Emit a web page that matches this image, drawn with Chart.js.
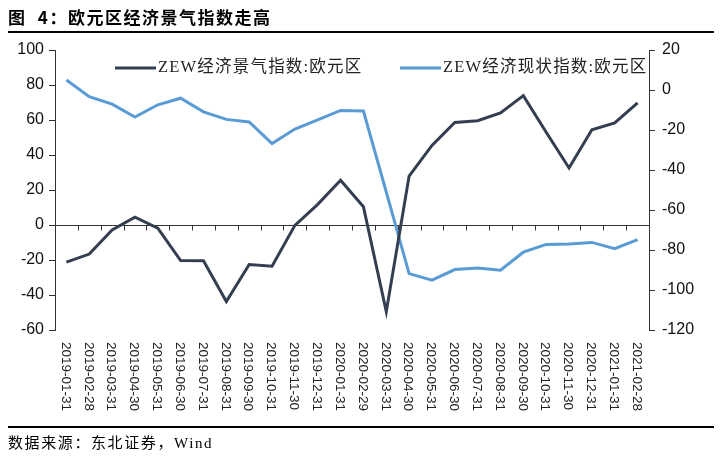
<!DOCTYPE html>
<html>
<head>
<meta charset="utf-8">
<script src="https://cdn.jsdelivr.net/npm/chart.js@4/dist/chart.umd.min.js"></script>
<style>
  html, body { margin: 0; padding: 0; background: #fff; }
  #wrap { position: relative; width: 722px; height: 460px; overflow: hidden; }
  #chart { position: absolute; left: 0; top: 0; }
  .title { position: absolute; left: 8px; top: 4px; font: bold 17px "Noto Sans CJK SC", sans-serif; color: #000; letter-spacing: 1.5px; word-spacing: 6px; }
  .rule { position: absolute; left: 8px; width: 706px; height: 2px; background: #000; }
  .source { position: absolute; left: 8px; top: 431px; font: 15px "Liberation Serif", "Noto Sans CJK SC", serif; color: #000; letter-spacing: 1.6px; }
</style>
</head>
<body>
<div id="wrap">
  <canvas id="chart" width="722" height="460"></canvas>
  <div class="title">图 4：欧元区经济景气指数走高</div>
  <div class="rule" style="top:31px"></div>
  <div class="rule" style="top:426px"></div>
  <div class="source">数据来源：东北证券，Wind</div>
</div>
<script>
// month-end dates
const dates = ['2019-01-31', '2019-02-28', '2019-03-31', '2019-04-30', '2019-05-31', '2019-06-30',
    '2019-07-31', '2019-08-31', '2019-09-30', '2019-10-31', '2019-11-30', '2019-12-31',
    '2020-01-31', '2020-02-29', '2020-03-31', '2020-04-30', '2020-05-31', '2020-06-30',
    '2020-07-31', '2020-08-31', '2020-09-30', '2020-10-31', '2020-11-30', '2020-12-31',
    '2021-01-31', '2021-02-28'];

// ZEW经济景气指数:欧元区 (left axis)
const sentiment = [-21.2, -16.6, -2.8, 4.5, -1.8, -20.3, -20.4, -43.7, -22.6, -23.5, -0.2, 11.8,
    25.6, 10.4, -49.5, 28.0, 45.5, 58.6, 59.6, 64.0, 73.9, 53.0, 32.6, 54.4, 58.3, 69.8];

// ZEW经济现状指数:欧元区 (right axis)
const currentSituation = [5.0, -3.3, -7.1, -13.5, -7.4, -4.1, -10.9, -14.7, -16.0, -26.8, -19.5, -14.9,
    -10.2, -10.5, -51.0, -91.8, -95.1, -89.8, -89.0, -90.1, -81.1, -77.2, -77.0, -76.2, -79.3, -74.8];

const leftTicks = [-60, -40, -20, 0, 20, 40, 60, 80, 100];
const rightTicks = [-120, -100, -80, -60, -40, -20, 0, 20];

const seriesNames = ['ZEW经济景气指数:欧元区', 'ZEW经济现状指数:欧元区'];

const axisColor = '#333333';
const tickFont = { family: '"Liberation Sans", Arial, sans-serif', size: 16 };

// zero line with ticks, rotated date labels and the legend
const decorPlugin = {
    id: 'decor',
    beforeDatasetsDraw(chart) {
        const { ctx, chartArea, scales } = chart;
        const x = scales.x;
        const y0 = Math.round(scales.y.getPixelForValue(0)) + 0.5;
        ctx.save();
        ctx.strokeStyle = axisColor;
        ctx.lineWidth = 1;
        ctx.beginPath();
        ctx.moveTo(chartArea.left, y0);
        ctx.lineTo(chartArea.right, y0);
        for (let i = 1; i < dates.length; i++) {
            const xb = Math.round((x.getPixelForValue(i - 1) + x.getPixelForValue(i)) / 2) + 0.5;
            ctx.moveTo(xb, y0);
            ctx.lineTo(xb, y0 + 5);
        }
        ctx.stroke();
        ctx.restore();
    },
    afterDraw(chart) {
        const { ctx, chartArea, scales } = chart;
        const x = scales.x;
        ctx.save();
        // date labels, reading top to bottom
        ctx.fillStyle = '#222';
        ctx.font = '13.5px "Liberation Sans", Arial, sans-serif';
        ctx.textAlign = 'left';
        ctx.textBaseline = 'middle';
        dates.forEach((d, i) => {
            ctx.save();
            ctx.translate(x.getPixelForValue(i) - 1, chartArea.bottom + 12);
            ctx.rotate(Math.PI / 2);
            ctx.fillText(d, 0, 0);
            ctx.restore();
        });
        // legend
        const legendPos = [115, 400];
        ctx.font = '16.5px "Liberation Serif", "Noto Sans CJK SC", serif';
        ctx.letterSpacing = '1.2px';
        ctx.textBaseline = 'middle';
        chart.data.datasets.forEach((ds, i) => {
            const lx = legendPos[i];
            const ly = 68;
            ctx.strokeStyle = ds.borderColor;
            ctx.lineWidth = 3;
            ctx.beginPath();
            ctx.moveTo(lx, ly);
            ctx.lineTo(lx + 41, ly);
            ctx.stroke();
            ctx.fillStyle = '#222';
            ctx.fillText(ds.label, lx + 43, ly);
        });
        ctx.restore();
    }
};

const ctx = document.getElementById('chart').getContext('2d');
new Chart(ctx, {
    type: 'line',
    data: {
        labels: dates,
        datasets: [{
            label: seriesNames[0],
            data: sentiment,
            yAxisID: 'y',
            borderColor: '#333F50',
            borderWidth: 3,
            pointRadius: 0,
            tension: 0
        }, {
            label: seriesNames[1],
            data: currentSituation,
            yAxisID: 'y1',
            borderColor: '#5B9BD5',
            borderWidth: 3,
            pointRadius: 0,
            tension: 0
        }]
    },
    options: {
        responsive: false,
        animation: false,
        devicePixelRatio: 1,
        layout: { padding: { left: 0, right: 0, top: 50, bottom: 130 } },
        plugins: {
            legend: { display: false },
            tooltip: { enabled: false }
        },
        scales: {
            x: {
                type: 'category',
                offset: true,
                display: false
            },
            y: {
                position: 'left',
                min: leftTicks[0],
                max: leftTicks[leftTicks.length - 1],
                afterBuildTicks: scale => { scale.ticks = leftTicks.map(v => ({ value: v })); },
                afterFit: scale => { scale.width = 55; },
                grid: { drawOnChartArea: false, color: axisColor, tickLength: 6 },
                border: { color: axisColor, width: 1 },
                ticks: { color: '#111', font: tickFont, padding: 5 }
            },
            y1: {
                position: 'right',
                min: rightTicks[0],
                max: rightTicks[rightTicks.length - 1],
                afterBuildTicks: scale => { scale.ticks = rightTicks.map(v => ({ value: v })); },
                afterFit: scale => { scale.width = 73; },
                grid: { drawOnChartArea: false, color: axisColor, tickLength: 6 },
                border: { color: axisColor, width: 1 },
                ticks: { color: '#111', font: tickFont, padding: 7 }
            }
        }
    },
    plugins: [decorPlugin]
});
</script>
</body>
</html>
